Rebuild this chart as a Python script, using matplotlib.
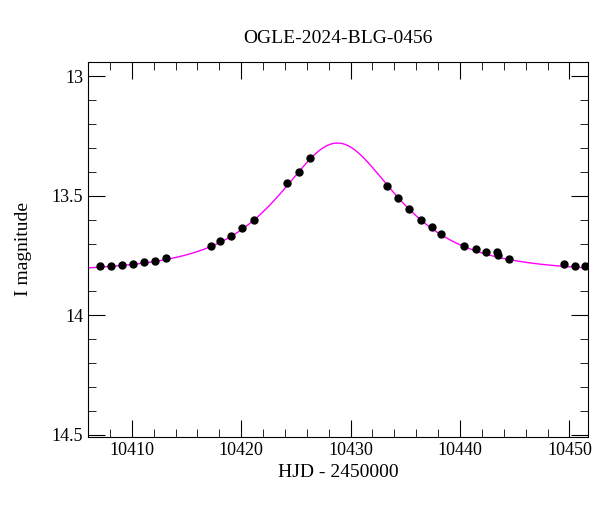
import numpy as np
import matplotlib.pyplot as plt
from matplotlib.ticker import MultipleLocator

plt.rcParams["font.family"] = "Liberation Serif"

hjd = [10407.08, 10408.08, 10409.09, 10410.09, 10411.10, 10412.1, 10413.1,
       10417.2, 10418.1, 10419.1, 10420.1, 10421.2, 10424.2, 10425.3, 10426.3,
       10433.3, 10434.3, 10435.3, 10436.4, 10437.4, 10438.3, 10440.4, 10441.5,
       10442.4, 10443.4, 10443.5, 10444.5, 10449.5, 10450.5, 10451.4]
mag = [13.795, 13.795, 13.791, 13.787, 13.778, 13.774, 13.762,
       13.711, 13.690, 13.669, 13.636, 13.603, 13.448, 13.402, 13.343,
       13.460, 13.510, 13.556, 13.603, 13.632, 13.661, 13.711, 13.724,
       13.736, 13.736, 13.749, 13.766, 13.787, 13.795, 13.795]

# point-lens model
t0, tE, u0, base = 10428.8, 7.8, 0.72, 13.82

t = np.linspace(10405, 10452, 600)
u = np.sqrt(u0**2 + ((t - t0) / tE)**2)
A = (u**2 + 2) / (u * np.sqrt(u**2 + 4))
model = base - 2.5 * np.log10(A)

fig = plt.figure(figsize=(6, 5.12), dpi=100)
ax = fig.add_axes([88/600, 1 - 437/512, 500/600, 375/512])
ax.plot(t, model, color="magenta", lw=1)
ax.errorbar(hjd, mag, yerr=0.005, fmt="o", color="black", ms=5, capsize=0, lw=1.5)

ax.set_xlim(10406, 10451.7)
ax.set_ylim(14.51, 12.94)
ax.xaxis.set_major_locator(MultipleLocator(10))
ax.xaxis.set_minor_locator(MultipleLocator(2))
ax.yaxis.set_major_locator(MultipleLocator(0.5))
ax.yaxis.set_minor_locator(MultipleLocator(0.1))
ax.tick_params(which="both", direction="in", top=True, right=True, labelsize=13)
ax.tick_params(which="major", length=12)
ax.tick_params(which="minor", length=6)
ax.set_yticks([13, 13.5, 14, 14.5], ["13", "13.5", "14", "14.5"])
ax.set_xlabel("HJD - 2450000", fontsize=14)
ax.set_ylabel("I magnitude", fontsize=14, labelpad=14)
ax.set_title("OGLE-2024-BLG-0456", fontsize=14, pad=14)

fig.savefig("out.png", dpi=100)
